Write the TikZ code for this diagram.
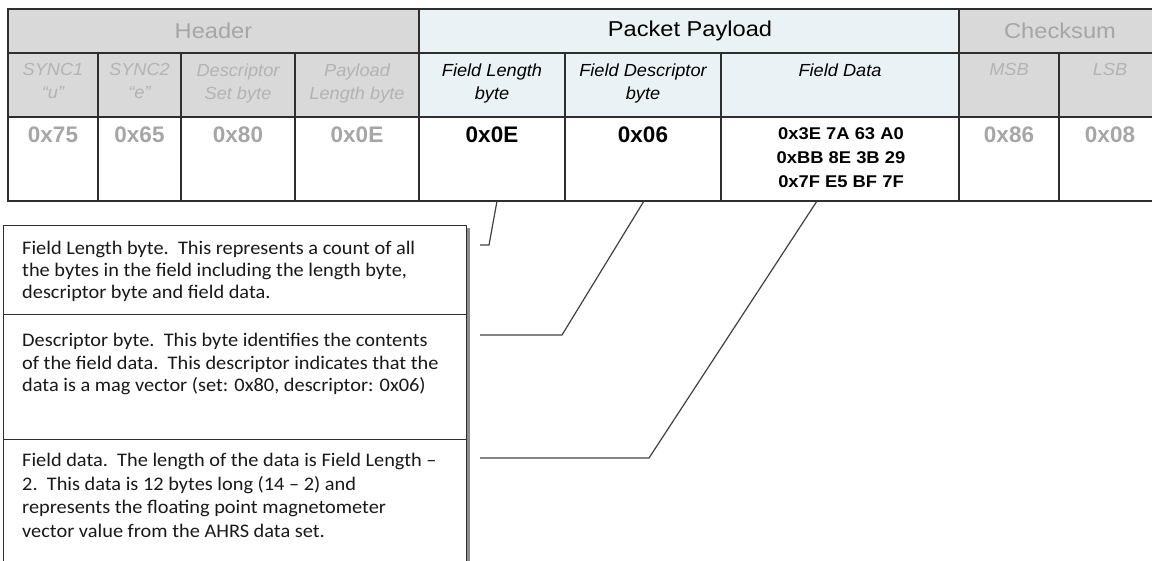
\documentclass[tikz,border=0pt]{standalone}
\usepackage{fontspec}
\setmainfont{Liberation Sans}
\newfontfamily\calfont{Carlito}
\definecolor{hgray}{HTML}{D9D9D9}
\definecolor{tgray}{HTML}{A6A6A6}
\definecolor{pblue}{HTML}{EAF2F6}
\definecolor{linec}{HTML}{2E2E2E}
\definecolor{connc}{HTML}{404040}
\begin{document}
\begin{tikzpicture}[x=1pt,y=-1pt,
  cell/.style={draw=linec,line width=1.4pt,anchor=north west,inner sep=0pt,outer sep=0pt,minimum width=#1},
  r1/.style={cell=#1,minimum height=44pt},
  r2/.style={cell=#1,minimum height=64pt},
  r3/.style={cell=#1,minimum height=84pt,fill=white},
  gcell/.style={fill=hgray},
  bcell/.style={fill=pblue},
  htxt/.style={font=\fontsize{21.5}{24}\selectfont,inner sep=0pt,xscale=1.1},
  sub/.style={font=\fontsize{17.5}{23}\selectfont\itshape,anchor=north,align=center,inner sep=0pt,xscale=1.04},
  val/.style={font=\fontsize{22.5}{26}\selectfont\bfseries,anchor=north,inner sep=0pt},
  fdata/.style={font=\fontsize{17}{24}\selectfont\bfseries,anchor=north,align=center,inner sep=0pt},
  note/.style={draw=linec,line width=1.2pt,anchor=north west,inner sep=0pt,minimum width=463pt},
  notetxt/.style={anchor=north west,align=left,inner sep=0pt,text=black!90,xscale=1.06},
  conn/.style={draw=connc,line width=1.2pt}
]
\useasboundingbox (0,0) rectangle (1152,561);

% row 1
\node[r1=411pt,gcell] (hdr) at (8,9) {};
\node[r1=540pt,bcell] (pay) at (419,9) {};
\node[r1=202pt,gcell] (chk) at (959,9) {};
\node[htxt,text=tgray] (hdrT) at (213.5,31) {Header};
\node[htxt] (payT) at (690,31) {Packet Payload};
\node[htxt,text=tgray] (chkT) at (1060,31) {Checksum};

% row 2
\node[r2=90pt,gcell] (s1) at (8,53) {};
\node[r2=83pt,gcell] (s2) at (98,53) {};
\node[r2=114pt,gcell] (s3) at (181,53) {};
\node[r2=124pt,gcell] (s4) at (295,53) {};
\node[r2=146pt,bcell] (s5) at (419,53) {};
\node[r2=156pt,bcell] (s6) at (565,53) {};
\node[r2=238pt,bcell] (s7) at (721,53) {};
\node[r2=100pt,gcell] (s8) at (959,53) {};
\node[r2=102pt,gcell] (s9) at (1059,53) {};
\node[sub,text=tgray!85] (s1T) at (53,63.5) {SYNC1\\“u”};
\node[sub,text=tgray!85] (s2T) at (139.5,63.5) {SYNC2\\“e”};
\node[sub,text=tgray!85] (s3T) at (238,63.5) {Descriptor\\Set byte};
\node[sub,text=tgray!85] (s4T) at (357,63.5) {Payload\\Length byte};
\node[sub] (s5T) at (492,63.5) {Field Length\\byte};
\node[sub] (s6T) at (643,63.5) {Field Descriptor\\byte};
\node[sub] (s7T) at (840,63.5) {Field Data};
\node[sub,text=tgray!85] (s8T) at (1009,63.5) {MSB};
\node[sub,text=tgray!85] (s9T) at (1110,63.5) {LSB};

% row 3
\node[r3=90pt] (v1) at (8,117) {};
\node[r3=83pt] (v2) at (98,117) {};
\node[r3=114pt] (v3) at (181,117) {};
\node[r3=124pt] (v4) at (295,117) {};
\node[r3=146pt] (v5) at (419,117) {};
\node[r3=156pt] (v6) at (565,117) {};
\node[r3=238pt] (v7) at (721,117) {};
\node[r3=100pt] (v8) at (959,117) {};
\node[r3=102pt] (v9) at (1059,117) {};
\node[val,text=tgray] (v1T) at (53,127) {0x75};
\node[val,text=tgray] (v2T) at (139.5,127) {0x65};
\node[val,text=tgray] (v3T) at (238,127) {0x80};
\node[val,text=tgray] (v4T) at (357,127) {0x0E};
\node[val] (v5T) at (492,127) {0x0E};
\node[val] (v6T) at (643,127) {0x06};
\node[fdata,xscale=1.08] (v7T) at (841,127) {0x3E 7A 63 A0\\0xBB 8E 3B 29\\0x7F E5 BF 7F};
\node[val,text=tgray] (v8T) at (1009,127) {0x86};
\node[val,text=tgray] (v9T) at (1110,127) {0x08};

% note boxes with shadow
\fill[black!45] (6,228) rectangle (469.5,563);
\node[note,minimum height=89pt,fill=white] (n1) at (3,225) {};
\node[note,minimum height=125pt,fill=white] (n2) at (3,314) {};
\node[note,minimum height=125pt,fill=white] (n3) at (3,439) {};
\node[notetxt,font=\calfont\fontsize{19.2}{22}\selectfont] (n1T) at (22,240.5) {Field Length byte.\ \ This represents a count of all\\the bytes in the field including the length byte,\\descriptor byte and field data.};
\node[notetxt,font=\calfont\fontsize{19.2}{22.5}\selectfont] (n2T) at (22,333) {Descriptor byte.\ \ This byte identifies the contents\\of the field data.\ \ This descriptor indicates that the\\data is a mag vector (set: 0x80, descriptor: 0x06)};
\node[notetxt,font=\calfont\fontsize{19.2}{23.7}\selectfont] (n3T) at (22,453) {Field data.\ \ The length of the data is Field Length –\\2.\ \ This data is 12 bytes long (14 – 2) and\\represents the floating point magnetometer\\vector value from the AHRS data set.};

% connectors
\coordinate (c1) at (497,201);
\coordinate (c2) at (644,201);
\coordinate (c3) at (817,201);
\coordinate (e1) at (480,245);
\coordinate (e2) at (480,335);
\coordinate (e3) at (480,458);
\draw[conn] (c1) -- (489,245) -- (e1);
\draw[conn] (c2) -- (562,335) -- (e2);
\draw[conn] (c3) -- (649,458) -- (e3);
\end{tikzpicture}
\end{document}
